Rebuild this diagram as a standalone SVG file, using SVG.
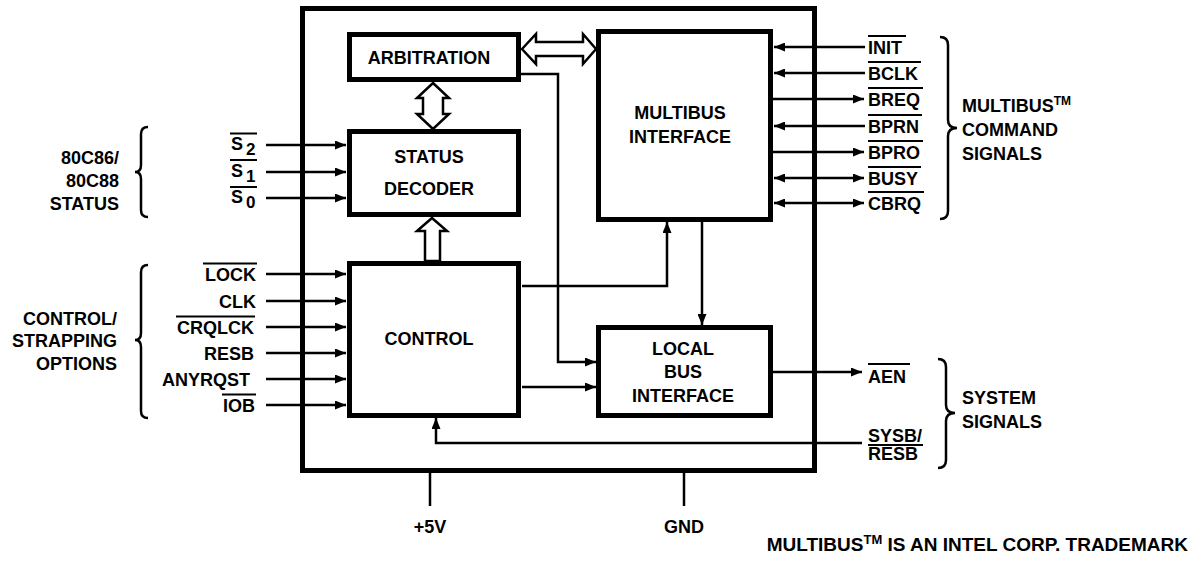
<svg xmlns="http://www.w3.org/2000/svg" width="1192" height="567" viewBox="0 0 1192 567">
<style>
text{font-family:"Liberation Sans",Arial,sans-serif;font-weight:bold;font-size:18px;fill:#000}
.box{fill:#fff;stroke:#000;stroke-width:5}
.w{fill:none;stroke:#000;stroke-width:2.5}
.ha{fill:#fff;stroke:#000;stroke-width:2.5;stroke-linejoin:miter}
.ov{stroke:#000;stroke-width:2}
.br{fill:none;stroke:#000;stroke-width:2.5}
.m{text-anchor:middle}
.e{text-anchor:end}
</style>
<defs>
<marker id="ah" markerUnits="userSpaceOnUse" markerWidth="11" markerHeight="9" refX="11" refY="4.5" orient="auto-start-reverse"><path d="M0,0 L11,4.5 L0,9 z" fill="#000"/></marker>
</defs>
<rect x="0" y="0" width="1192" height="567" fill="#fff"/>
<g id="chip"><rect class="box" x="302.5" y="8.5" width="512" height="462" fill="none"/></g>
<g id="connectors">
<path class="w" d="M266,145 H346" marker-end="url(#ah)"/>
<path class="w" d="M266,172 H346" marker-end="url(#ah)"/>
<path class="w" d="M266,198 H346" marker-end="url(#ah)"/>
<path class="w" d="M266,274 H346" marker-end="url(#ah)"/>
<path class="w" d="M266,301 H346" marker-end="url(#ah)"/>
<path class="w" d="M266,327 H346" marker-end="url(#ah)"/>
<path class="w" d="M266,353 H346" marker-end="url(#ah)"/>
<path class="w" d="M266,379 H346" marker-end="url(#ah)"/>
<path class="w" d="M266,405 H346" marker-end="url(#ah)"/>
<path class="w" d="M865,47 H774" marker-end="url(#ah)"/>
<path class="w" d="M865,73 H774" marker-end="url(#ah)"/>
<path class="w" d="M773,99 H864" marker-end="url(#ah)"/>
<path class="w" d="M865,126 H774" marker-end="url(#ah)"/>
<path class="w" d="M773,152 H864" marker-end="url(#ah)"/>
<path class="w" d="M774,178 H864" marker-start="url(#ah)" marker-end="url(#ah)"/>
<path class="w" d="M774,203 H864" marker-start="url(#ah)" marker-end="url(#ah)"/>
<path class="w" d="M773,372 H862" marker-end="url(#ah)"/>
<path class="w" d="M862,443 H436 V418" marker-end="url(#ah)"/>
<path class="w" d="M521,74 H558 V362 H596" marker-end="url(#ah)"/>
<path class="w" d="M522,286 H667 V222" marker-end="url(#ah)"/>
<path class="w" d="M702,222 V325" marker-end="url(#ah)"/>
<path class="w" d="M522,387 H596" marker-end="url(#ah)"/>
<path class="w" d="M430,473 V506"/>
<path class="w" d="M684,473 V506"/>
<polygon class="ha" points="433,83 449,98 443,98 443,114 449,114 433,129 417,114 423,114 423,98 417,98"/>
<polygon class="ha" points="522,49 536,34 536,42 583,42 583,34 596,49 583,64 583,56 536,56 536,64"/>
<polygon class="ha" points="432,218 447,231 440,231 440,261 425,261 425,231 417,231"/>
</g>
<g id="arbitration"><rect class="box" x="349.5" y="34.5" width="169" height="45"/><text class="m" x="429" y="64">ARBITRATION</text></g>
<g id="status-decoder"><rect class="box" x="349.5" y="131.5" width="169" height="83"/><text class="m" x="429" y="163">STATUS</text><text class="m" x="429" y="195">DECODER</text></g>
<g id="control"><rect class="box" x="349.5" y="263.5" width="169" height="152"/><text class="m" x="429" y="345">CONTROL</text></g>
<g id="multibus-interface"><rect class="box" x="598.5" y="31.5" width="172" height="188"/><text class="m" x="680" y="119">MULTIBUS</text><text class="m" x="680" y="143">INTERFACE</text></g>
<g id="local-bus-interface"><rect class="box" x="598.5" y="327.5" width="172" height="88"/><text class="m" x="683" y="355">LOCAL</text><text class="m" x="683" y="378">BUS</text><text class="m" x="683" y="402">INTERFACE</text></g>
<g id="status-inputs">
<text x="231" y="150">S<tspan dx="3" dy="5" style="font-size:17px">2</tspan></text>
<text x="231" y="177">S<tspan dx="3" dy="5" style="font-size:17px">1</tspan></text>
<text x="231" y="203">S<tspan dx="3" dy="5" style="font-size:17px">0</tspan></text>
<line class="ov" x1="230" y1="133.5" x2="257" y2="133.5"/>
<line class="ov" x1="230" y1="160" x2="257" y2="160"/>
<line class="ov" x1="230" y1="187" x2="257" y2="187"/>
<path class="br" d="M148,127 Q141,127 141,134 V165 Q141,172 135,172 Q141,172 141,179 V210 Q141,217 148,217"/>
<text class="e" x="119" y="164">80C86/</text>
<text class="e" x="119" y="187">80C88</text>
<text class="e" x="119" y="210">STATUS</text>
</g>
<g id="control-inputs">
<text class="e" x="256" y="281">LOCK</text>
<text class="e" x="256" y="308">CLK</text>
<text class="e" x="254" y="334">CRQLCK</text>
<text class="e" x="254" y="360">RESB</text>
<text class="e" x="250" y="386">ANYRQST</text>
<text class="e" x="255" y="412">IOB</text>
<line class="ov" x1="203" y1="263.5" x2="257" y2="263.5"/>
<line class="ov" x1="176" y1="316.5" x2="255" y2="316.5"/>
<line class="ov" x1="222" y1="394.5" x2="256" y2="394.5"/>
<path class="br" d="M148,265 Q141,265 141,272 V333 Q141,340 135,340 Q141,340 141,347 V411 Q141,418 148,418"/>
<text class="e" x="117" y="325">CONTROL/</text>
<text class="e" x="117" y="347">STRAPPING</text>
<text class="e" x="117" y="370">OPTIONS</text>
</g>
<g id="multibus-signals">
<text x="868" y="53.5">INIT</text>
<text x="868" y="79.5">BCLK</text>
<text x="868" y="105.5">BREQ</text>
<text x="868" y="132.5">BPRN</text>
<text x="868" y="158.5">BPRO</text>
<text x="868" y="184.5">BUSY</text>
<text x="868" y="209.5">CBRQ</text>
<line class="ov" x1="868" y1="36" x2="906" y2="36"/>
<line class="ov" x1="868" y1="62" x2="921" y2="62"/>
<line class="ov" x1="868" y1="88" x2="923" y2="88"/>
<line class="ov" x1="868" y1="115" x2="922" y2="115"/>
<line class="ov" x1="868" y1="141" x2="923" y2="141"/>
<line class="ov" x1="868" y1="167" x2="921" y2="167"/>
<line class="ov" x1="868" y1="192" x2="924" y2="192"/>
<path class="br" d="M940,37 Q948,37 948,45 V120 Q948,128 957,128 Q948,128 948,136 V211 Q948,219 940,219"/>
<text x="962" y="112">MULTIBUS<tspan dy="-7" style="font-size:12px">TM</tspan></text>
<text x="962" y="136">COMMAND</text>
<text x="962" y="160">SIGNALS</text>
</g>
<g id="system-signals">
<text x="868" y="383">AEN</text>
<line class="ov" x1="868" y1="364" x2="910" y2="364"/>
<text x="868" y="442">SYSB/</text>
<text x="868" y="460">RESB</text>
<line class="ov" x1="868" y1="445" x2="923" y2="445"/>
<path class="br" d="M938,359 Q946,359 946,367 V405 Q946,413 955,413 Q946,413 946,421 V460 Q946,468 938,468"/>
<text x="962" y="404">SYSTEM</text>
<text x="962" y="428">SIGNALS</text>
</g>
<g id="power">
<text class="m" x="430" y="533">+5V</text>
<text class="m" x="684" y="533">GND</text>
</g>
<g id="footnote">
<text class="e" x="1188" y="551" style="font-size:19px">MULTIBUS<tspan dy="-7" style="font-size:13px">TM</tspan><tspan dy="7"> IS AN INTEL CORP. TRADEMARK</tspan></text>
</g>
</svg>
